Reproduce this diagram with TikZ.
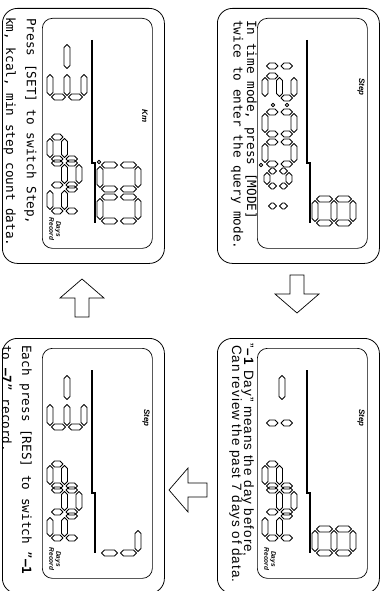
\documentclass[tikz,border=0pt]{standalone}
\usepackage{fontspec}
\setmonofont{DejaVu Sans Mono}
\setsansfont{Liberation Sans}
\newfontfamily\spacedsans[LetterSpace=7]{Liberation Sans}
\usetikzlibrary{positioning,calc}

\tikzset{
  frame/.style={draw, line width=0.8pt, rounded corners=15pt, minimum width=255pt, minimum height=162pt, inner sep=0pt},
  screen/.style={draw, line width=0.7pt, rounded corners=10pt, minimum width=230pt, minimum height=110pt, inner sep=0pt},
  segline/.style={line width=0.8pt, line join=round},
  divider/.style={line width=2.6pt},
  flowline/.style={line width=0.7pt, line join=miter},
  note/.style={font=\ttfamily\fontsize{12.7}{13}\selectfont, anchor=base west, inner sep=0pt},
  sansnote/.style={font=\spacedsans\fontsize{13.5}{14}\selectfont, anchor=base west, inner sep=0pt},
  tag/.style={font=\sffamily\bfseries\itshape\fontsize{8}{8}\selectfont, inner sep=0pt},
  smalltag/.style={font=\sffamily\bfseries\itshape\fontsize{6.5}{6}\selectfont, inner sep=0pt, align=center}
}

% one segment of a digit, drawn as a thin hexagon
\newcommand{\hseg}[3]{\draw[segline] (#1+1.5,#2) -- ++(3,3) -- ++(#3-9,0) -- ++(3,-3) -- ++(-3,-3) -- ++(-#3+9,0) -- cycle;}
\newcommand{\vseg}[3]{\draw[segline] (#1,#2+1.5) -- ++(3,3) -- ++(0,#3-9) -- ++(-3,3) -- ++(-3,-3) -- ++(0,-#3+9) -- cycle;}
\def\lcda{\hseg{0}{\dh}{\dw}}
\def\lcdb{\vseg{\dw}{\dh/2}{\dh/2}}
\def\lcdc{\vseg{\dw}{0}{\dh/2}}
\def\lcdd{\hseg{0}{0}{\dw}}
\def\lcde{\vseg{0}{0}{\dh/2}}
\def\lcdf{\vseg{0}{\dh/2}{\dh/2}}
\def\lcdg{\hseg{0}{\dh/2}{\dw}}
% digit at (x,y), width, height, list of segments
\newcommand{\digit}[5]{\begin{scope}[shift={(#1,#2)}]\def\dw{#3}\def\dh{#4}\foreach \s in {#5}{\csname lcd\s\endcsname}\end{scope}}

% frame + screen + divider bar
\newcommand{\lcdpanel}[4]{%
  \node[frame, anchor=south west] (#1) at (#2,#3) {};
  \node[screen, anchor=south west] (#1s) at ($(#1.south west)+(10,40)$) {};
  \begin{scope}[shift={(#2+10,#3+40)}]
    \draw[divider] (22,50) -- (145,50) -- (145,53) -- (205,53);
    #4
  \end{scope}}

% block arrow from a tail point, turned by an angle
\newcommand{\flowarrow}[2]{\draw[flowline, rotate around={#2:(#1)}] (#1) ++(0,-7) -- ++(19,0) -- ++(0,-15) -- ++(19,22) -- ++(-19,22) -- ++(0,-15) -- ++(-19,0) -- cycle;}

\begin{document}
\begin{tikzpicture}[x=1pt, y=1pt]
\useasboundingbox (0,0) rectangle (383,-591);
\begin{scope}[rotate=-90, transform shape]

  % time mode
  \lcdpanel{time}{8}{217}{
    \node[tag] at (69,104) {Step};
    \digit{28}{8}{20}{29}{b,c}
    \digit{58}{8}{22}{29}{a,b,g,e,d}
    \draw[segline] (87,16) circle (1.8) (87,30) circle (1.8);
    \digit{94}{8}{22}{29}{a,b,c,d,e,f}
    \digit{124}{8}{22}{29}{a,b,c,d,e,f}
    \draw[segline] (147,4) circle (1.8);
    \digit{153}{10}{15}{22}{a,b,c,d,e,f}
    \digit{178}{10}{10}{22}{b,c}
    \digit{181}{58}{24}{38}{a,b,c,d,e,f,g}
  }
  \node[note] (timeA) at (20,247) {In time mode, press [MODE]};
  \node[note] (timeB) at (20,233.5) {twice to enter the query mode.};

  % one day back
  \lcdpanel{day}{338}{217}{
    \node[tag] at (70,104) {Step};
    \digit{26}{8}{27}{34}{g}
    \digit{55}{8}{20}{29}{b,c}
    \digit{116}{8}{22}{29}{b,c,d,e,g}
    \digit{142}{8}{22}{29}{a,b,c,e,f,g}
    \digit{168}{8}{22}{29}{b,c,d,f,g}
    \node[smalltag] at (211,13) {Days\\Record};
    \digit{181}{58}{24}{38}{a,b,c,d,e,f,g}
  }
  \node[sansnote] (dayA) at (343,244) {”\textbf{–1} Day” means the day before,};
  \node[sansnote] (dayB) at (345,232) {Can review the past 7 days of data.};

  % record switch
  \lcdpanel{rec}{338}{2}{
    \node[tag] at (70,104) {Step};
    \digit{26}{8}{27}{34}{g}
    \digit{55}{8}{24}{34}{a,b,c,d,g}
    \digit{116}{8}{22}{29}{b,c,d,e,g}
    \digit{142}{8}{22}{29}{a,b,c,e,f,g}
    \digit{168}{8}{22}{29}{b,c,d,f,g}
    \node[smalltag] at (211,13) {Days\\Record};
    \digit{181}{58}{24}{38}{a,b,c}
  }
  \node[note] (recA) at (345,22) {Each press [RES] to switch ”\textbf{–1}};
  \node[note] (recB) at (345,2) {to \textbf{–7}” record.};

  % data switch
  \lcdpanel{data}{8}{2}{
    \node[tag] at (98,103) {Km};
    \digit{25}{8}{27}{34}{g}
    \digit{55}{8}{24}{34}{a,b,c,d,g}
    \digit{119}{8}{22}{29}{b,c,d,e,g}
    \digit{145}{8}{22}{29}{a,b,c,e,f,g}
    \digit{171}{8}{22}{29}{b,c,d,f,g}
    \node[smalltag] at (211,13) {Days\\Record};
    \draw[segline] (144,57) circle (1.8);
    \digit{147}{58}{24}{38}{a,b,c,d,e,f}
    \digit{179}{58}{24}{38}{a,b,c,d,e,f}
  }
  \node[note] (dataA) at (18,27) {Press [SET] to switch Step,};
  \node[note] (dataB) at (17,6) {km, kcal, min step count data.};

  % flow between the panels
  \coordinate (tA) at (275,297);
  \coordinate (tB) at (490,207);
  \coordinate (tC) at (317,82);
  \flowarrow{tA}{0}
  \flowarrow{tB}{-90}
  \flowarrow{tC}{180}

\end{scope}
\end{tikzpicture}
\end{document}
